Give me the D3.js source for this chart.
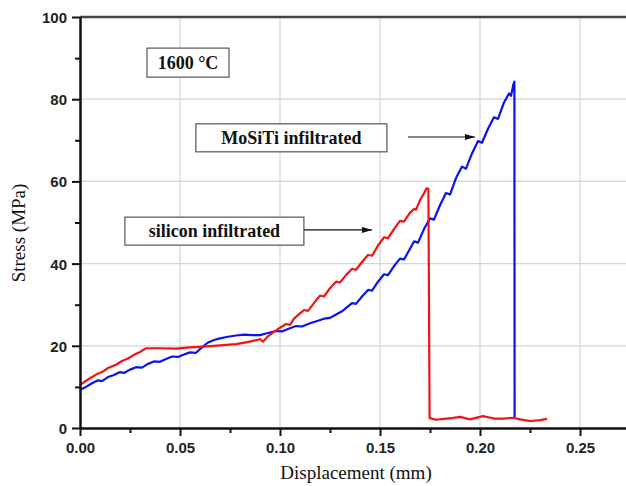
<!DOCTYPE html>
<html>
<head>
    <meta charset="utf-8">
    <title></title>
    <script src="https://d3js.org/d3.v7.min.js" charset="utf-8"></script>
    <style>
        body{ margin:0; background:#fff; }
        .tick text{ font-family: Arial, "Liberation Sans", sans-serif; font-weight:bold; font-size:15px; fill:#222; }
        .axis path, .axis line{ stroke:#111; }
        .grid line{ stroke:#d4d4d4; stroke-width:1.2; }
        .title{ font-family: "Liberation Serif", "Times New Roman", serif; font-size:19px; fill:#111; }
        .note text{ font-family: "Liberation Serif", "Times New Roman", serif; font-weight:bold; font-size:18px; fill:#111; }
        .note rect{ fill:#fff; stroke:#555; stroke-width:1.2; }
    </style>
</head>
<body>

<div id="vis"></div>

<script>

    // tick values
    var xTicks = [0, 0.05, 0.10, 0.15, 0.20, 0.25],
        xMinor = [0.025, 0.075, 0.125, 0.175, 0.225],
        yTicks = [0, 20, 40, 60, 80, 100],
        yMinor = [10, 30, 50, 70, 90];

    // silicon infiltrated (red), displacement mm / stress MPa
    var siliconX = [0.000, 0.004, 0.008, 0.011, 0.014, 0.018, 0.021, 0.024, 0.027, 0.030,
                    0.033, 0.040, 0.048, 0.055, 0.062, 0.070, 0.078, 0.085, 0.090, 0.0915,
                    0.094, 0.097, 0.100, 0.103, 0.105, 0.107, 0.110, 0.112, 0.114, 0.117,
                    0.120, 0.122, 0.125, 0.128, 0.130, 0.133, 0.136, 0.138, 0.141, 0.144,
                    0.146, 0.149, 0.152, 0.154, 0.157, 0.160, 0.162, 0.165, 0.167, 0.168,
                    0.170, 0.172, 0.1733, 0.1742, 0.1748, 0.178, 0.182, 0.186, 0.190, 0.195,
                    0.2015, 0.207, 0.212, 0.2165, 0.220, 0.225, 0.230, 0.2335];
    var siliconY = [10.5, 11.8, 13.0, 13.6, 14.6, 15.4, 16.3, 16.9, 17.8, 18.5,
                    19.4, 19.4, 19.3, 19.6, 19.8, 20.1, 20.4, 21.0, 21.6, 21.0,
                    22.3, 23.4, 24.4, 25.3, 25.1, 26.6, 27.9, 28.7, 28.5, 30.4,
                    32.2, 32.0, 34.0, 35.6, 35.4, 37.2, 38.7, 38.5, 40.4, 42.1,
                    41.9, 44.4, 46.4, 46.2, 48.4, 50.4, 50.2, 52.4, 53.3, 53.1,
                    55.4, 57.1, 58.3, 58.2, 2.4, 2.0, 2.2, 2.4, 2.7, 2.1,
                    2.9, 2.3, 2.3, 2.5, 2.1, 1.7, 1.9, 2.2];

    // MoSiTi infiltrated (blue)
    var mositiX = [0.000, 0.003, 0.006, 0.009, 0.011, 0.014, 0.017, 0.020, 0.022, 0.025,
                   0.028, 0.031, 0.034, 0.037, 0.040, 0.043, 0.046, 0.049, 0.052, 0.055,
                   0.058, 0.061, 0.064, 0.067, 0.070, 0.074, 0.078, 0.082, 0.086, 0.090,
                   0.094, 0.098, 0.101, 0.104, 0.108, 0.111, 0.115, 0.119, 0.122, 0.125,
                   0.128, 0.131, 0.134, 0.136, 0.138, 0.141, 0.144, 0.146, 0.149, 0.152,
                   0.154, 0.157, 0.160, 0.162, 0.165, 0.167, 0.169, 0.172, 0.175, 0.177,
                   0.180, 0.183, 0.185, 0.188, 0.191, 0.193, 0.196, 0.199, 0.201, 0.204,
                   0.207, 0.209, 0.212, 0.2145, 0.2155, 0.2168, 0.2172, 0.2173];
    var mositiY = [9.3, 10.0, 10.9, 11.6, 11.4, 12.4, 12.9, 13.6, 13.4, 14.2,
                   14.8, 14.7, 15.6, 16.2, 16.1, 16.8, 17.4, 17.3, 17.9, 18.4,
                   18.3, 19.6, 20.8, 21.4, 21.8, 22.2, 22.5, 22.7, 22.6, 22.6,
                   23.1, 23.6, 23.5, 24.1, 24.8, 24.7, 25.5, 26.1, 26.6, 26.8,
                   27.6, 28.4, 29.6, 30.4, 30.2, 32.0, 33.6, 33.4, 35.6, 37.4,
                   37.2, 39.4, 41.2, 41.0, 43.6, 45.4, 45.1, 48.4, 51.0, 50.7,
                   54.2, 57.2, 56.8, 60.8, 63.6, 63.1, 66.8, 69.8, 69.4, 72.8,
                   75.6, 75.2, 79.2, 81.4, 80.8, 83.8, 84.3, 2.5];

    var width = 626, height = 486;
    var margin = {top: 17, right: 0, bottom: 58, left: 80};

    var svg = d3.select("#vis").append("svg")
            .attr("width", width)
            .attr("height", height);

    var x = d3.scaleLinear().domain([0, 0.273]).range([margin.left, width - margin.right]);
    var y = d3.scaleLinear().domain([0, 100]).range([height - margin.bottom, margin.top]);

    // grid
    var grid = svg.append("g").attr("class", "grid");
    grid.selectAll(".gx").data(xTicks.slice(1)).enter().append("line")
        .attr("x1", function(d){ return x(d); }).attr("x2", function(d){ return x(d); })
        .attr("y1", y(0)).attr("y2", y(100));
    grid.selectAll(".gy").data(yTicks.slice(1, -1)).enter().append("line")
        .attr("x1", x(0)).attr("x2", x(0.273))
        .attr("y1", function(d){ return y(d); }).attr("y2", function(d){ return y(d); });

    // top frame line
    svg.append("line")
        .attr("x1", x(0)).attr("x2", x(0.273))
        .attr("y1", y(100)).attr("y2", y(100))
        .style("stroke", "#444").style("stroke-width", 2.5);

    // curves
    var line = d3.line()
        .x(function(d){ return x(d[0]); })
        .y(function(d){ return y(d[1]); });

    svg.append("path")
        .datum(mositiX.map(function(v, i){ return [v, mositiY[i]]; }))
        .attr("d", line)
        .style("fill", "none").style("stroke", "#0a14f0").style("stroke-width", 2.2)
        .style("stroke-linejoin", "round");

    svg.append("path")
        .datum(siliconX.map(function(v, i){ return [v, siliconY[i]]; }))
        .attr("d", line)
        .style("fill", "none").style("stroke", "#f01414").style("stroke-width", 2.2)
        .style("stroke-linejoin", "round");

    // axes
    var xAxis = svg.append("g").attr("class", "axis")
        .attr("transform", "translate(0," + y(0) + ")")
        .call(d3.axisBottom(x).tickValues(xTicks).tickSize(8).tickSizeOuter(0).tickPadding(6)
            .tickFormat(d3.format(".2f")));
    svg.append("g").attr("class", "axis")
        .attr("transform", "translate(0," + y(0) + ")")
        .call(d3.axisBottom(x).tickValues(xMinor).tickSize(5).tickSizeOuter(0).tickFormat(""))
        .select(".domain").remove();

    var yAxis = svg.append("g").attr("class", "axis")
        .attr("transform", "translate(" + x(0) + ",0)")
        .call(d3.axisLeft(y).tickValues(yTicks).tickSize(8).tickSizeOuter(0).tickPadding(5));
    svg.append("g").attr("class", "axis")
        .attr("transform", "translate(" + x(0) + ",0)")
        .call(d3.axisLeft(y).tickValues(yMinor).tickSize(5).tickSizeOuter(0).tickFormat(""))
        .select(".domain").remove();

    svg.selectAll(".axis .domain").style("stroke-width", 2.5);
    svg.selectAll(".axis .tick line").style("stroke-width", 2);
    yAxis.selectAll(".tick text").attr("dy", "0.36em");

    // axis titles
    svg.append("text").attr("class", "title")
        .attr("x", 356).attr("y", 479)
        .attr("text-anchor", "middle")
        .text("Displacement (mm)");
    svg.append("text").attr("class", "title")
        .attr("transform", "translate(25," + 233 + ") rotate(-90)")
        .attr("text-anchor", "middle")
        .text("Stress (MPa)");

    // annotations
    svg.append("defs").append("marker")
        .attr("id", "arrow")
        .attr("viewBox", "0 0 10 6")
        .attr("refX", 10).attr("refY", 3)
        .attr("markerWidth", 10).attr("markerHeight", 6)
        .attr("markerUnits", "userSpaceOnUse")
        .attr("orient", "auto")
        .append("path").attr("d", "M0,0L10,3L0,6Z").style("fill", "#111");

    function note(label, cx, cy, w, h, arrow) {
        var g = svg.append("g").attr("class", "note");
        g.append("rect")
            .attr("x", x(cx) - w / 2).attr("y", y(cy) - h / 2)
            .attr("width", w).attr("height", h);
        g.append("text")
            .attr("x", x(cx)).attr("y", y(cy))
            .attr("dy", "0.34em")
            .attr("text-anchor", "middle")
            .text(label);
        if (arrow) {
            g.append("line")
                .attr("x1", x(arrow[0])).attr("x2", x(arrow[1]))
                .attr("y1", y(arrow[2])).attr("y2", y(arrow[2]))
                .style("stroke", "#111").style("stroke-width", 1.2)
                .attr("marker-end", "url(#arrow)");
        }
    }

    note("1600 \u00b0C", 0.054, 88.9, 82, 29, null);
    note("MoSiTi infiltrated", 0.1057, 70.6, 191, 28, [0.164, 0.1975, 70.8]);
    note("silicon infiltrated", 0.0672, 47.9, 179, 28, [0.112, 0.146, 48.2]);

</script>

</body>
</html>
